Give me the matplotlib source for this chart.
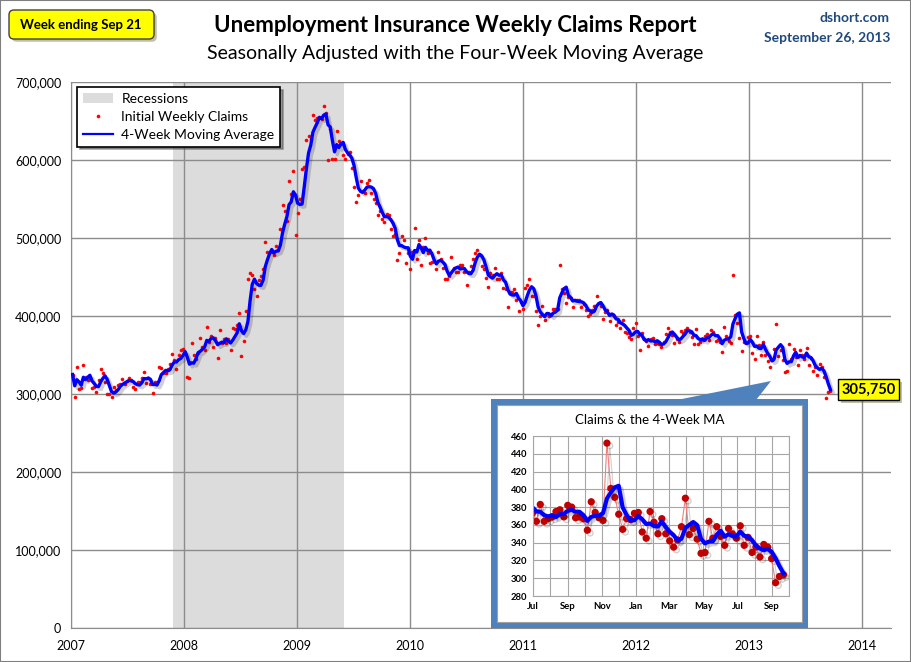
import matplotlib
matplotlib.use("Agg")
import matplotlib.pyplot as plt
import matplotlib.dates as mdates
import matplotlib.patheffects as pe
from matplotlib.patches import Rectangle, Polygon, FancyBboxPatch, Patch
from matplotlib.lines import Line2D
from matplotlib.ticker import FuncFormatter
from matplotlib.transforms import Affine2D
import pandas as pd

plt.rcParams["font.family"] = ["Lato", "DejaVu Sans"]

# weekly initial claims, seasonally adjusted, in thousands (week ending Saturday)
claims_2007 = [325, 296, 334, 307, 308, 337, 322, 318, 319, 308, 309, 303, 318,
               332, 327, 316, 300, 300, 296, 309, 305, 311, 313, 319, 313, 317,
               320, 318, 309, 306, 315, 316, 320, 328, 314, 320, 313, 301, 316,
               316, 334, 333, 327, 327, 332, 338, 351, 343, 332, 350, 357, 358]
claims_2008 = [352, 322, 321, 365, 350, 345, 352, 372, 360, 357, 386, 367, 375,
               360, 372, 346, 382, 366, 370, 365, 370, 357, 384, 383, 389, 404,
               349, 368, 407, 448, 455, 452, 434, 426, 446, 451, 460, 495, 482,
               482, 482, 478, 490, 484, 511, 542, 534, 522, 573, 556, 586, 504]
claims_2009 = [532, 550, 588, 591, 626, 631, 627, 658, 651, 654, 655, 652, 669,
               660, 600, 640, 601, 601, 637, 625, 621, 607, 601, 608, 610, 590,
               565, 546, 555, 573, 560, 558, 570, 575, 558, 550, 545, 530, 534,
               524, 521, 531, 530, 512, 503, 505, 472, 481, 503, 498, 468, 481]
claims_2010 = [460, 482, 513, 473, 498, 465, 489, 500, 481, 468, 469, 470, 460,
               482, 473, 462, 447, 448, 451, 476, 462, 457, 456, 466, 465, 456,
               440, 457, 464, 473, 481, 485, 478, 464, 460, 449, 437, 455, 453,
               462, 447, 447, 455, 436, 435, 411, 431, 431, 434, 420, 406, 418]
claims_2011 = [409, 436, 440, 448, 426, 426, 406, 389, 400, 413, 395, 404, 400,
               402, 409, 409, 409, 466, 435, 430, 417, 425, 423, 412, 420, 421,
               421, 411, 415, 408, 400, 403, 408, 413, 426, 417, 413, 396, 405,
               408, 394, 403, 400, 388, 392, 385, 395, 380, 378, 373, 370, 385,
               391]
claims_2012 = [375, 356, 378, 371, 368, 362, 371, 372, 364, 366, 364, 360, 367,
               377, 385, 380, 376, 365, 370, 367, 381, 378, 382, 385, 379, 373,
               364, 383, 364, 367, 369, 375, 377, 369, 382, 380, 368, 369, 367,
               354, 386, 374, 368, 365, 452, 401, 391, 372, 355, 367, 366, 373]
claims_2013 = [374, 352, 345, 375, 363, 350, 367, 350, 342, 335, 343, 358, 390,
               349, 356, 344, 328, 329, 364, 345, 358, 347, 337, 356, 350, 345,
               359, 337, 346, 329, 335, 324, 338, 335, 322, 295, 302, 304]

first_week = "2007-01-06"
recession_start = "2007-11-26"
recession_end = "2009-06-03"
inset_start = "2012-06-30"

claims = (claims_2007 + claims_2008 + claims_2009 + claims_2010 +
          claims_2011 + claims_2012 + claims_2013)
weeks = pd.date_range(first_week, periods=len(claims), freq="W-SAT")
s = pd.Series(claims, index=weeks) * 1000.0
ma = s.rolling(4, min_periods=1).mean()

W, H = 911, 662
fig = plt.figure(figsize=(W / 100, H / 100), dpi=100)
fig.patch.set_facecolor("white")
# pixel coords (origin top-left) -> figure
pxT = Affine2D().scale(1.0 / W, -1.0 / H).translate(0, 1) + fig.transFigure


def fx(x):
    return x / W


def fy(y):
    return 1 - y / H


shadow = [pe.SimpleLineShadow(offset=(2, -2), shadow_color="k", alpha=0.18), pe.Normal()]
grid_c = "#8c8c8c"

# ---------------- main chart ----------------
ax = fig.add_axes([fx(71), fy(628), (891 - 71) / W, (628 - 82) / H])
ax.axvspan(pd.Timestamp(recession_start), pd.Timestamp(recession_end),
           color="#dcdcdc", lw=0, zorder=0)
ax.plot(weeks, s, ls="none", marker="o", ms=2.6, color="#ff0000", mec="none", zorder=3)
ax.plot(weeks, ma, color="#0000ff", lw=2.4, zorder=4, path_effects=shadow)

ax.set_ylim(0, 700000)
ax.set_xlim(pd.Timestamp("2007-01-01"), pd.Timestamp("2014-04-05"))
ax.set_yticks(range(0, 700001, 100000))
ax.yaxis.set_major_formatter(FuncFormatter(lambda v, p: f"{v:,.0f}"))
ax.xaxis.set_major_locator(mdates.YearLocator())
ax.xaxis.set_major_formatter(mdates.DateFormatter("%Y"))
ax.grid(True, color=grid_c, lw=1)
ax.set_axisbelow(True)
for side in ["top", "right"]:
    ax.spines[side].set_visible(False)
for side in ["left", "bottom"]:
    ax.spines[side].set_color(grid_c)
ax.tick_params(axis="y", length=0, labelsize=9, pad=7)
ax.tick_params(axis="x", length=0, labelsize=9, pad=9)

handles = [Patch(facecolor="#dcdcdc", edgecolor="none"),
           Line2D([], [], ls="none", marker="o", ms=2.6, color="#ff0000", mec="none"),
           Line2D([], [], color="#0000ff", lw=1.6)]
labels = ["Recessions", "Initial Weekly Claims", "4-Week Moving Average"]
leg = ax.legend(handles, labels, loc="upper left", bbox_to_anchor=(fx(77), fy(87)),
                bbox_transform=fig.transFigure, fancybox=False, shadow=True,
                framealpha=1, edgecolor="black", fontsize=10, borderaxespad=0,
                borderpad=0.4, labelspacing=0.45, handlelength=2.2, handletextpad=0.6)
leg.get_frame().set_linewidth(1.2)

last = ax.annotate(f"{ma.iloc[-1]:,.0f}", xy=(weeks[-1], ma.iloc[-1]), xytext=(8, 0),
                   textcoords="offset points", ha="left", va="center",
                   fontsize=10.5, fontweight="bold", zorder=6,
                   bbox=dict(boxstyle="square,pad=0.25", fc="#ffff00", ec="black", lw=1))
last.get_bbox_patch().set_path_effects([pe.withSimplePatchShadow(offset=(2, -2), alpha=0.35)])

# ---------------- inset frame + pointer ----------------
blue = "#4f81bd"
fig.add_artist(Polygon([(677, 400), (771, 381), (756, 400)], closed=True,
                       transform=pxT, fc=blue, ec="none", zorder=2))
fig.add_artist(Rectangle((491, 399), 317, 229, transform=pxT, fc=blue, ec="none", zorder=2))
fig.add_artist(Rectangle((497, 405), 305, 217, transform=pxT, fc="white",
                         ec="#a0a0a0", lw=0.8, zorder=2.1))
fig.text(fx(650), fy(420), "Claims & the 4-Week MA", ha="center", va="center",
         fontsize=9.5, zorder=3)

iax = fig.add_axes([fx(533), fy(596), (789 - 533) / W, (596 - 436) / H])
iax.set_zorder(4)
sel = s[inset_start:] / 1000
sel_ma = ma[inset_start:] / 1000
iax.plot(sel.index, sel, color="#f08080", lw=0.8, marker="o", ms=4.2,
         mfc="#c00000", mec="#c00000", path_effects=shadow)
iax.plot(sel_ma.index, sel_ma, color="#0000ff", lw=3, path_effects=shadow)
iax.set_xlim(pd.Timestamp("2012-07-01"), pd.Timestamp("2013-10-01"))
iax.set_ylim(280, 460)
iax.set_yticks(range(280, 461, 20))
iax.xaxis.set_major_locator(mdates.MonthLocator(bymonth=[1, 3, 5, 7, 9, 11]))
iax.xaxis.set_minor_locator(mdates.MonthLocator())
iax.xaxis.set_major_formatter(mdates.DateFormatter("%b"))
iax.grid(True, which="both", color="#a6a6a6", lw=0.8)
iax.set_axisbelow(True)
for sp in iax.spines.values():
    sp.set_color("#a6a6a6")
iax.tick_params(which="both", length=0, labelsize=6.8, pad=4)
for t in iax.get_xticklabels() + iax.get_yticklabels():
    t.set_fontweight("bold")

# ---------------- titles ----------------
fig.text(0.5, fy(25), "Unemployment Insurance Weekly Claims Report", ha="center",
         va="center", fontsize=16, fontweight="bold")
fig.text(0.5, fy(53), "Seasonally Adjusted with the Four-Week Moving Average",
         ha="center", va="center", fontsize=14)
fig.text(fx(890), fy(18), "dshort.com", ha="right", va="center", fontsize=10,
         fontweight="bold", color="#1f497d")
fig.text(fx(890), fy(38), "September 26, 2013", ha="right", va="center", fontsize=10,
         fontweight="bold", color="#1f497d")

box = FancyBboxPatch((9, 10), 145, 29, boxstyle="round,pad=0,rounding_size=5",
                     transform=pxT, fc="#ffff00", ec="#404040", lw=1, zorder=2)
box.set_path_effects([pe.withSimplePatchShadow(offset=(2, -2), alpha=0.35)])
fig.add_artist(box)
fig.text(fx(81), fy(25), "Week ending Sep 21", ha="center", va="center",
         fontsize=9.5, fontweight="bold", zorder=3)

fig.add_artist(Rectangle((0, 0), 1, 1, transform=fig.transFigure, fill=False,
                         ec="#7f7f7f", lw=1.5, zorder=10))

fig.savefig("out.png", dpi=100)
